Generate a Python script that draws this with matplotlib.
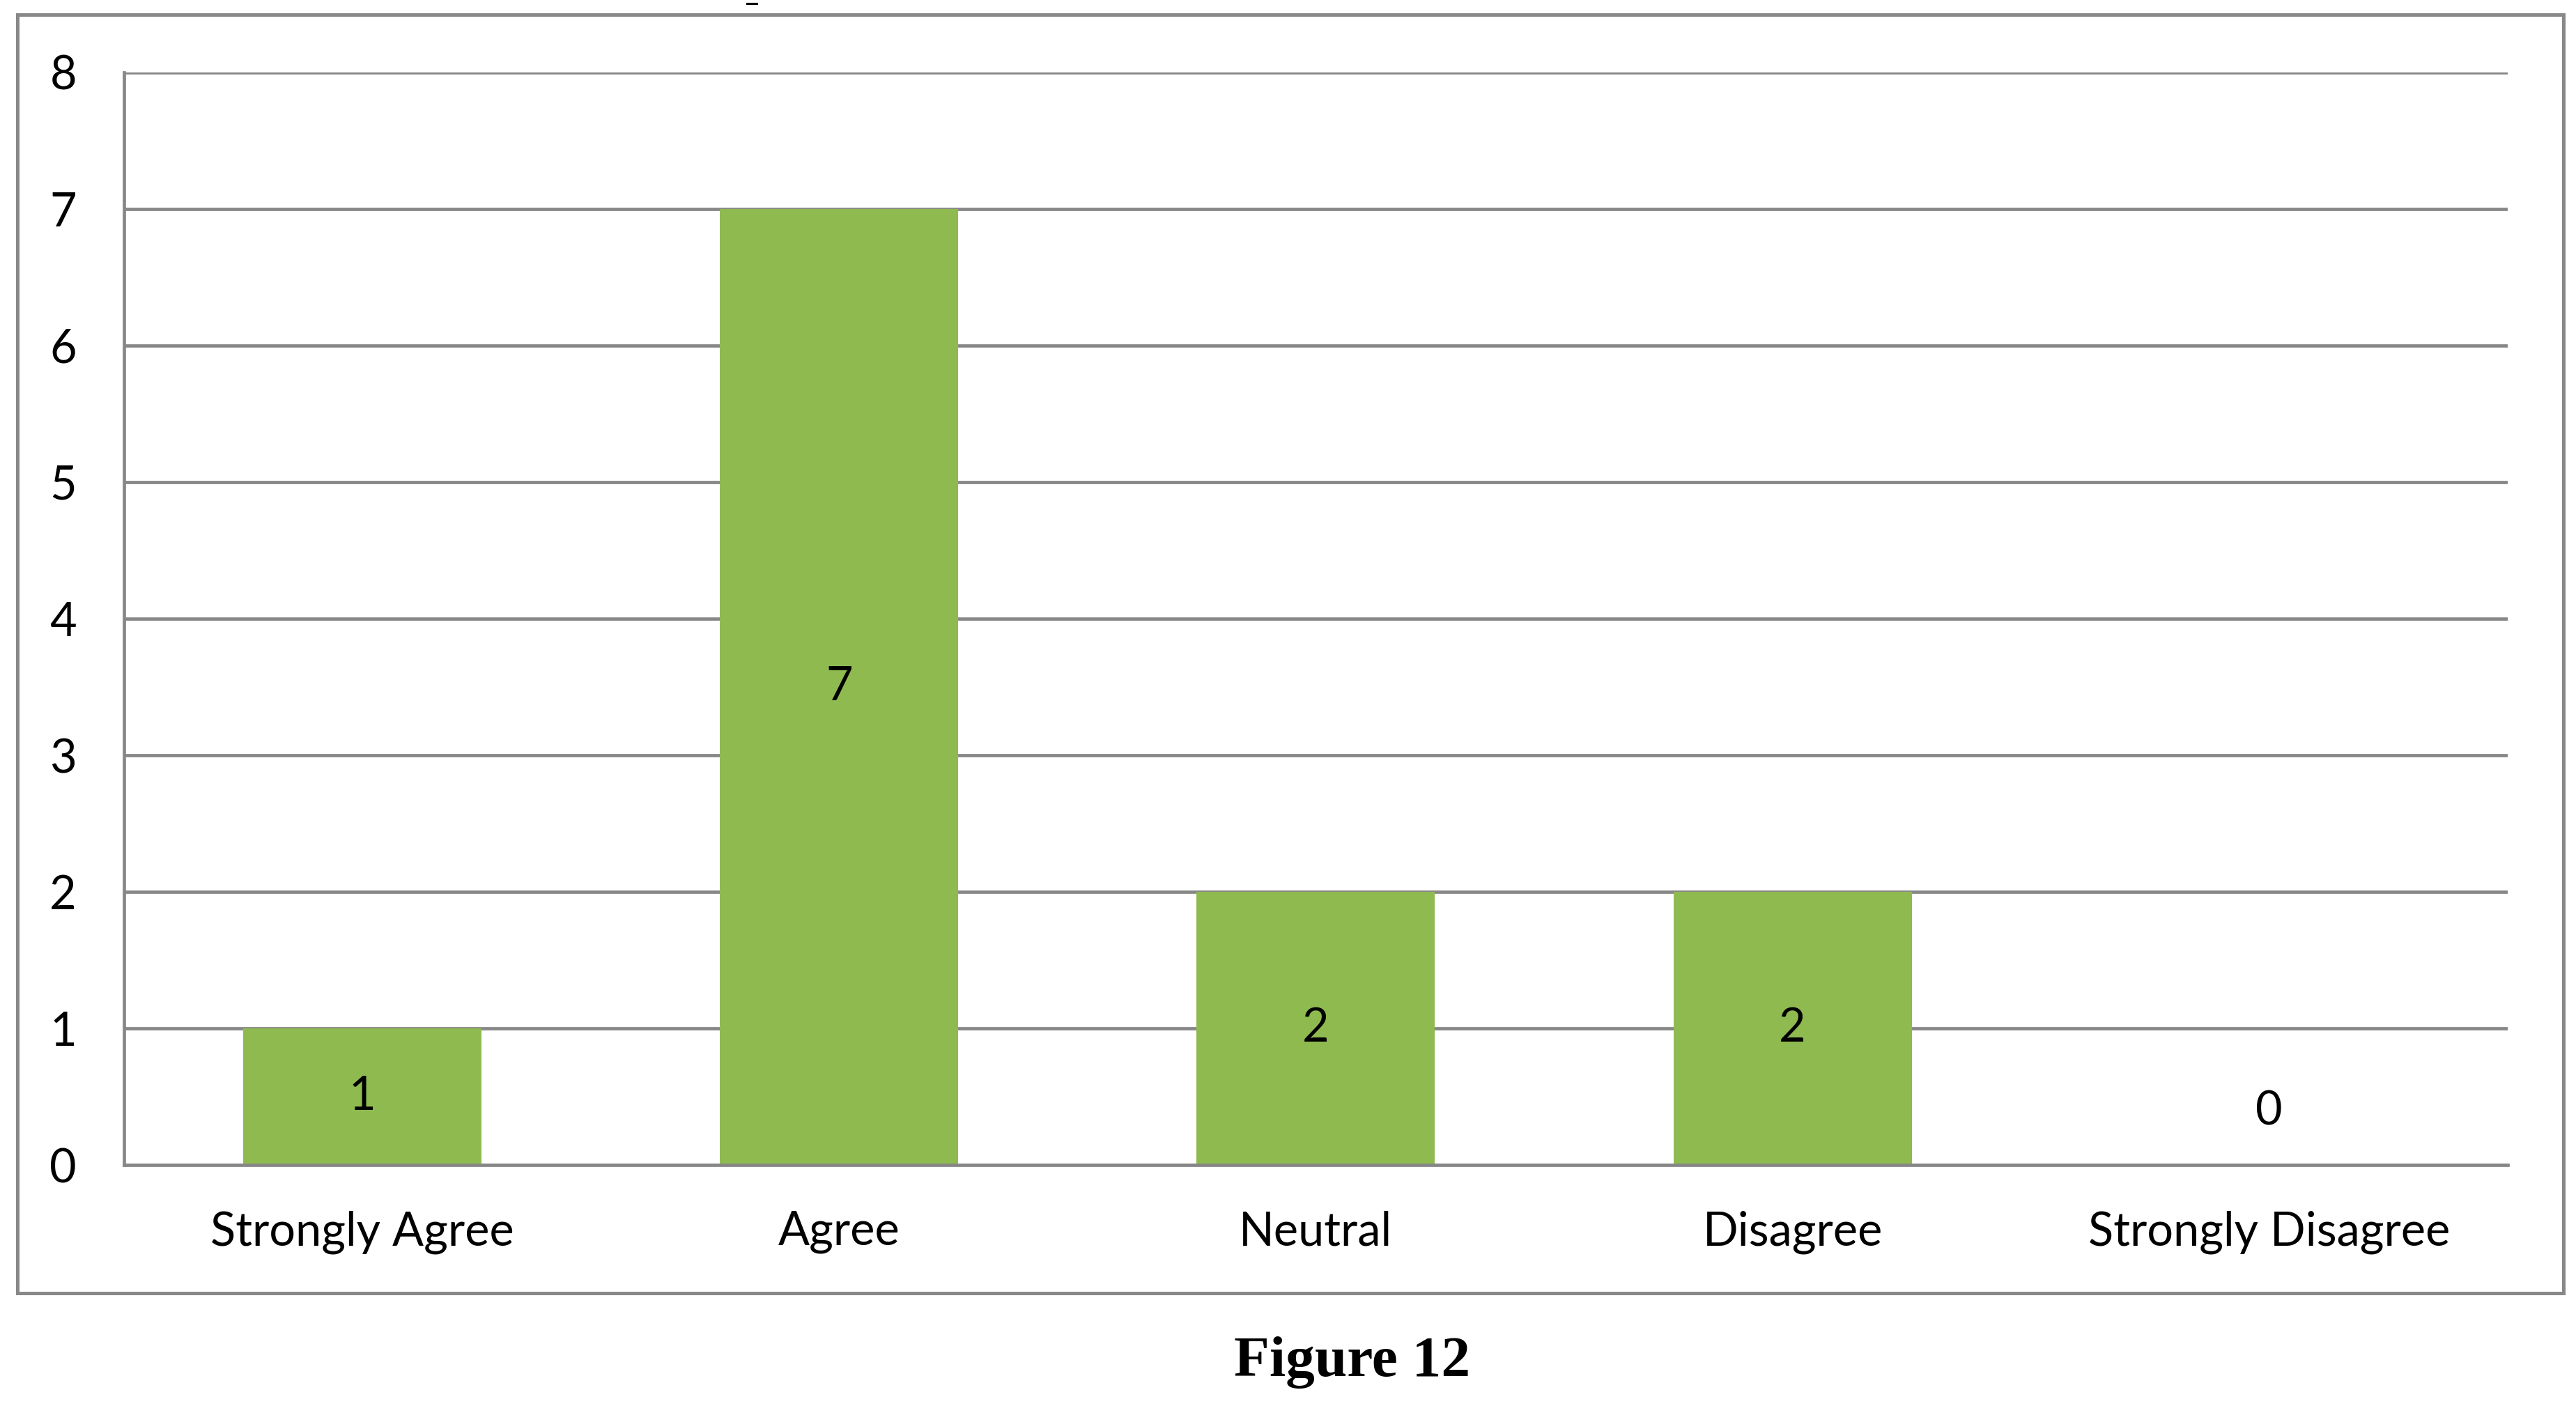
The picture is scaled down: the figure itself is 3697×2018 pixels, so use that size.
"""Bar chart of survey responses (Figure 12)"""

import matplotlib
matplotlib.use("Agg")
import matplotlib.pyplot as plt
from matplotlib.patches import Rectangle
from matplotlib.lines import Line2D

categories = ["Strongly Agree", "Agree", "Neutral", "Disagree", "Strongly Disagree"]
counts = [1, 7, 2, 2, 0]
y_ticks = [0, 1, 2, 3, 4, 5, 6, 7, 8]
caption = "Figure 12"

BAR_COLOR = "#8FBA50"
GRID_COLOR = "#878787"
FONT = "Lato"
FSIZE = 48

fig = plt.figure(figsize=(36.97, 20.18), dpi=100)
ax = fig.add_axes([0.04815, 0.1714, 0.9253, 0.7771])

x = list(range(len(categories)))
bars = ax.bar(x, counts, width=0.5, color=BAR_COLOR, zorder=3)

ax.set_xlim(-0.5, len(categories) - 0.5)
ax.set_ylim(0, 8)
ax.set_yticks(y_ticks)
ax.set_xticks(x)
ax.set_xticklabels(categories)

ax.set_axisbelow(True)
ax.yaxis.grid(True, color=GRID_COLOR, linewidth=3.4)
for name in ["top", "right"]:
    ax.spines[name].set_visible(False)
for name in ["left", "bottom"]:
    ax.spines[name].set_color(GRID_COLOR)
    ax.spines[name].set_linewidth(3.4)
    ax.spines[name].set_zorder(4)

ax.tick_params(axis="both", length=0, labelsize=FSIZE, labelcolor="black")
ax.tick_params(axis="y", pad=49)
ax.tick_params(axis="x", pad=47)
for lbl in ax.get_xticklabels() + ax.get_yticklabels():
    lbl.set_fontfamily(FONT)

# value labels: centre of bar, zero bar gets lifted a bit
for xi, val in zip(x, counts):
    if val > 0:
        ax.text(xi, val / 2, str(val), ha="center", va="center",
                fontsize=FSIZE, fontfamily=FONT, zorder=5)
    else:
        ax.annotate(str(val), (xi, 0), xytext=(0, 55), textcoords="offset points",
                    ha="center", va="center", fontsize=FSIZE, fontfamily=FONT, zorder=5)

# outer chart frame
fig.add_artist(Rectangle((0.00676, 0.0803), 0.9884, 0.9093, transform=fig.transFigure,
                         fill=False, edgecolor="#888888", linewidth=3.6))
# small stray mark above the frame
fig.add_artist(Line2D([1072 / 3697, 1086 / 3697], [1 - 4.5 / 2018, 1 - 4.5 / 2018],
                      transform=fig.transFigure, color="black", linewidth=2.2))

fig.text(0.5248, 0.0213, caption, ha="center", va="baseline", fontsize=60,
         fontfamily="Liberation Serif", fontweight="bold")

fig.savefig("out.png", dpi=100, facecolor="white")
